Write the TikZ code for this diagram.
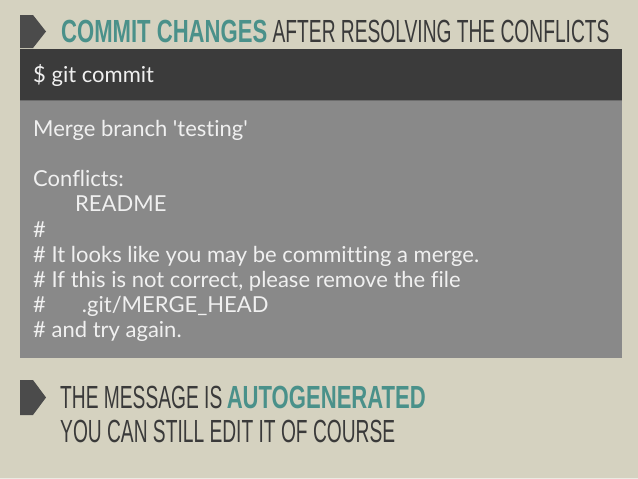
\documentclass[tikz,border=0pt]{standalone}
\usepackage{fontspec}
\setmainfont{Lato}[Ligatures={TeX,NoCommon}]
\newfontfamily\headlight{Liberation Sans}[FakeStretch=0.6]
\newfontfamily\headbold{Liberation Sans}[FakeStretch=0.69]
\usetikzlibrary{positioning}

\definecolor{slidebg}{HTML}{D5D2C0}
\definecolor{termbar}{HTML}{3B3B3B}
\definecolor{termbody}{HTML}{898989}
\definecolor{headteal}{HTML}{4A918A}
\definecolor{headdark}{HTML}{3A3A3A}
\definecolor{markgray}{HTML}{4B4B4B}

\begin{document}
\begin{tikzpicture}[x=1pt,y=-1pt,
	msg/.style={text=white!94!black, font=\fontsize{22}{22}\selectfont, inner sep=0pt, anchor=base west},
	headtxt/.style={inner sep=0pt, anchor=base west, font=\fontsize{32}{32}\selectfont},
	marker/.style={fill=markgray}]

% Fondo
	\fill[slidebg] (0,0) rectangle (638,479);
	\fill[white!55!slidebg] (0,477.5) rectangle (638,479);
	\useasboundingbox (0,0) rectangle (638,479);

% Titulo
	\fill[marker] (20,15) -- (33,15) -- (46,31.5) -- (33,48) -- (20,48) -- cycle;
	\node[headtxt, text=headteal] (title) at (61,42) {\headbold\bfseries COMMIT CHANGES};
	\node[headtxt, text=headdark, right=5pt of title.base east, anchor=base west] (subtitle)
		{\headlight AFTER RESOLVING THE CONFLICTS};

% Terminal
	\fill[termbar] (20,49) rectangle (622,100);
	\fill[termbody] (20,100) rectangle (622,358);
	\draw[termbar!75!white, line width=1pt] (20,100.5) -- (622,100.5);
	\node[msg] (cmd) at (33,82) {\$ git commit};

	\foreach \dx/\txt [count=\i] in {0/{Merge branch \textquotesingle testing\textquotesingle},
			0/{}, 0/{Conflicts:}, 42/{README}, 0/{\#},
			0/{\# It looks like you may be committing a merge.},
			0/{\# If this is not correct, please remove the file},
			0/{\#\hspace{36pt}.git/MERGE\_HEAD},
			0/{\# and try again.}}
		\node[msg] (line\i) at (33+\dx,111+25.2*\i) {\txt};

% Nota
	\fill[marker] (20,380) -- (33,380) -- (46,397.5) -- (33,415) -- (20,415) -- cycle;
	\node[headtxt, text=headdark] (note) at (60,408) {\headlight THE MESSAGE IS};
	\node[headtxt, text=headteal, right=4pt of note.base east, anchor=base west] (auto)
		{\headbold\bfseries AUTOGENERATED};
	\node[headtxt, text=headdark] (edit) at (60,442) {\headlight YOU CAN STILL EDIT IT OF COURSE};

\end{tikzpicture}
\end{document}
